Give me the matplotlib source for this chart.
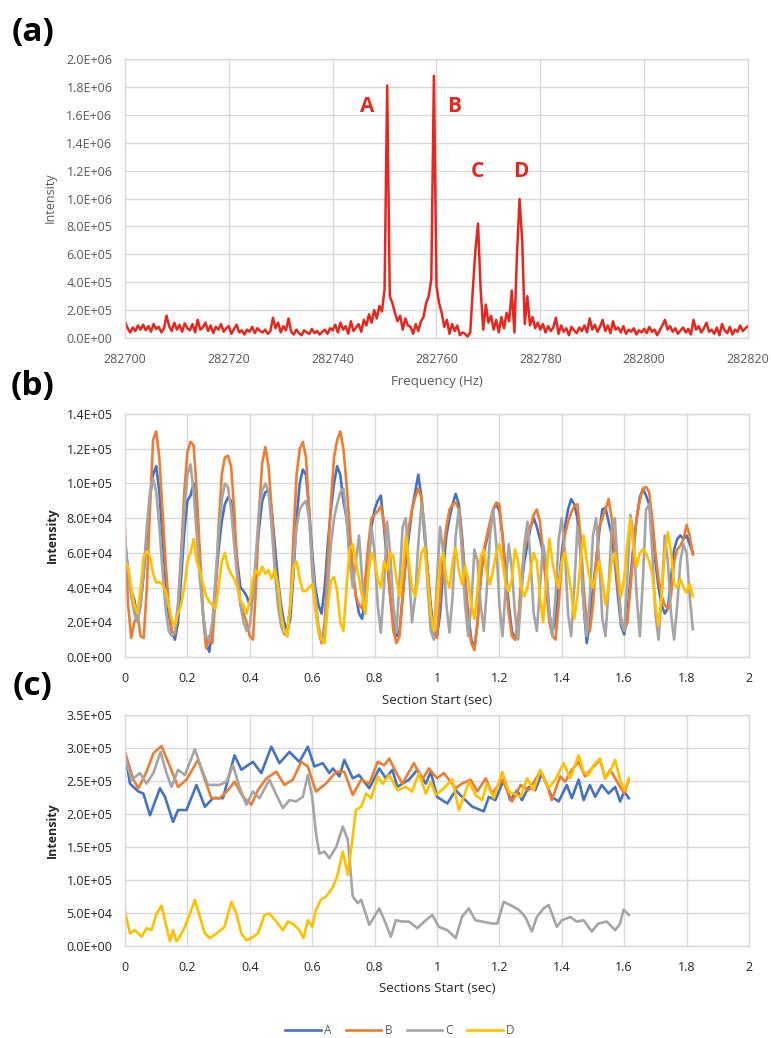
import numpy as np
import matplotlib
matplotlib.use("Agg")
import matplotlib.pyplot as plt
from matplotlib.ticker import FuncFormatter, MultipleLocator
from matplotlib.lines import Line2D

plt.rcParams['font.family'] = ['Open Sans', 'DejaVu Sans']

# ---------------- Panel (a): spectrum ----------------
freq_start = 282700.0
freq_step = 0.5
# intensity (x1000) every 0.5 Hz, 282700 .. 282820
spec_k = (
    [120, 70, 40, 75, 50, 90, 60, 95, 55, 85, 45, 100, 65, 80, 40, 70, 160, 85, 50, 110] +
    [60, 95, 45, 105, 70, 55, 100, 40, 130, 60, 75, 110, 50, 90, 35, 80, 60, 100, 45, 70] +
    [85, 30, 65, 95, 40, 55, 25, 60, 45, 80, 35, 70, 50, 40, 60, 30, 50, 145, 70, 110] +
    [40, 85, 55, 140, 45, 25, 60, 35, 20, 55, 40, 30, 65, 35, 50, 25, 45, 60, 30, 70] +
    [55, 95, 40, 110, 60, 85, 30, 120, 50, 75, 100, 45, 130, 90, 170, 110, 200, 140, 230, 190] +
    [350, 1810, 300, 250, 180, 120, 160, 60, 140, 90, 80, 30, 100, 50, 120, 150, 250, 300, 420, 1880] +
    [370, 250, 180, 80, 130, 30, 100, 50, 90, 20, 40, 30, 10, 40, 350, 630, 820, 350, 60, 240] +
    [110, 160, 60, 130, 40, 150, 70, 180, 120, 340, 40, 600, 996, 700, 100, 300, 90, 150, 70, 110] +
    [60, 100, 40, 85, 50, 75, 145, 30, 90, 45, 70, 20, 80, 55, 35, 75, 50, 90, 40, 140] +
    [60, 95, 45, 80, 130, 50, 90, 35, 120, 60, 75, 40, 85, 30, 60, 45, 70, 25, 55, 40] +
    [65, 35, 80, 45, 60, 20, 55, 90, 130, 60, 85, 45, 70, 30, 55, 75, 40, 65, 25, 130] +
    [60, 85, 40, 70, 110, 45, 60, 30, 75, 20, 100, 55, 35, 80, 25, 60, 45, 90, 50, 70] +
    [85]
)
peak_labels = ["A", "B", "C", "D"]
peak_label_x = [282746.7, 282763.3, 282767.9, 282776.2]
peak_label_y = [1.66e6, 1.66e6, 1.19e6, 1.19e6]

# ---------------- Panel (b): section intensities (x1000), every 0.01 s ----------------
b_step = 0.01
b_A = [65,50,38,33,22,30,48,70,92,105, 110,95,70,45,25,15,10,20,45,72,
       90,93,100,80,55,25,8,3,15,40, 62,78,88,92,90,75,55,40,38,35,
       30,35,55,75,90,95,96,85,65,45, 30,20,15,22,48,80,100,108,105,85,
       60,40,30,25,40,65,85,100,110,105, 90,80,65,50,35,25,22,35,55,75,
       85,90,93,75,55,35,20,12,15,35, 55,70,85,95,105,92,70,50,30,15,
       12,25,50,70,80,88,94,88,70,45, 25,10,5,20,45,60,68,75,85,88,
       84,70,50,30,15,10,18,40,55,65, 75,80,75,68,60,45,25,15,20,40,
       60,75,85,91,88,80,60,30,8,20, 40,55,72,85,86,78,70,55,35,18,
       13,25,45,65,80,92,97,93,88,75, 55,40,30,25,28,45,62,68,70,68,
       70,65,60]
b_B = [74,30,11,20,25,12,11,40,85,125, 130,115,85,55,30,15,13,30,60,95,
       118,124,122,95,60,25,5,12,8,35, 75,105,115,116,110,85,50,30,25,20,
       12,10,40,85,112,121,110,85,55,35, 20,14,12,30,70,105,120,124,115,85,
       50,28,15,8,20,55,90,115,125,130, 120,100,75,50,35,30,28,45,65,80,
       82,84,87,78,60,35,15,8,12,35, 60,75,85,92,97,92,75,50,25,12,
       11,35,60,75,85,88,89,85,68,45, 20,8,4,20,45,62,70,78,85,89,
       88,70,45,25,12,10,20,45,62,70, 75,82,85,78,60,40,20,12,10,30,
       55,70,78,83,87,88,70,40,20,15, 30,55,75,80,85,91,80,60,40,22,
       15,20,40,60,80,90,97,98,95,80, 60,45,35,30,28,35,55,62,64,68,
       76,70,59]
b_C = [68,50,35,25,20,30,50,75,95,103, 95,75,50,28,15,12,15,30,55,85,
       105,111,95,70,45,25,12,10,20,45, 70,90,100,98,85,65,45,30,20,15,
       18,35,60,85,96,100,95,75,50,30, 18,13,15,30,55,75,85,88,90,80,
       55,35,18,10,15,40,65,80,88,95, 97,80,55,40,55,70,45,25,50,75,
       60,30,14,40,78,60,30,14,45,75, 80,50,20,35,65,88,75,40,15,10,
       45,75,60,30,14,35,70,85,60,30, 12,30,62,55,30,15,40,70,85,65,
       30,12,40,65,50,25,10,35,65,78, 55,25,15,40,65,55,25,12,35,68,
       80,60,25,12,40,75,62,30,12,35, 70,80,55,22,12,40,75,80,50,20,
       15,45,82,70,35,12,45,85,88,60, 25,10,35,70,55,25,10,30,55,65,
       60,35,16]
b_D = [55,52,40,30,25,40,58,61,58,48, 43,43,42,38,30,22,18,25,30,40,
       55,60,68,55,50,42,35,32,30,28, 40,55,60,52,48,45,40,32,30,25,
       32,45,50,47,52,48,50,45,50,42, 25,15,12,30,52,55,45,38,38,40,
       42,30,15,10,8,30,44,46,38,20, 15,40,62,65,55,45,35,25,48,60,
       55,45,40,55,50,60,58,45,35,50, 70,55,40,35,45,60,63,45,25,15,
       35,55,60,45,40,55,63,50,42,52, 45,30,22,40,58,62,48,42,50,60,
       65,55,42,38,45,62,55,40,35,40, 50,60,55,35,20,45,68,55,45,40,
       55,60,50,38,22,35,55,70,55,45, 40,48,55,45,30,40,55,60,48,35,
       45,65,80,62,52,60,62,60,55,48, 30,18,35,60,72,60,42,40,45,40,
       37,42,35]

# ---------------- Panel (c): (time s, intensity x1000) ----------------
c_A = [(0,292),(.016,246),(.043,234),(.059,231),(.08,198),(.112,239),(.128,226),(.154,188),
       (.17,206),(.197,206),(.229,244),(.256,211),(.282,224),(.314,224),(.351,289),(.373,267),
       (.41,279),(.437,262),(.469,302),(.495,277),(.527,294),(.559,279),(.586,302),(.607,272),
       (.634,277),(.655,262),(.666,269),(.687,257),(.703,282),(.73,254),(.75,259),(.783,239),
       (.815,269),(.836,254),(.857,267),(.873,241),(.91,252),(.937,267),(.964,246),(.98,264),
       (1.0,226),(1.033,216),(1.06,236),(1.08,226),(1.113,211),(1.15,204),(1.166,226),(1.187,221),
       (1.214,252),(1.235,221),(1.257,236),(1.272,221),(1.294,241),(1.315,236),(1.336,262),
       (1.368,226),(1.39,219),(1.416,244),(1.432,224),(1.454,252),(1.47,221),(1.49,244),
       (1.507,226),(1.528,244),(1.55,231),(1.571,241),(1.587,219),(1.6,234),(1.615,224)]
c_B = [(0,294),(.027,252),(.043,239),(.069,264),(.091,292),(.117,303),(.144,272),(.17,241),
       (.197,252),(.234,282),(.256,252),(.277,224),(.304,224),(.33,236),(.351,249),(.378,226),
       (.405,214),(.426,236),(.453,254),(.485,264),(.511,244),(.538,252),(.565,279),(.586,272),
       (.612,234),(.644,246),(.655,252),(.677,264),(.703,264),(.73,229),(.757,252),(.783,246),
       (.81,279),(.831,274),(.847,284),(.868,264),(.889,246),(.926,277),(.953,252),(.974,269),
       (1.0,254),(1.022,262),(1.06,239),(1.08,246),(1.108,252),(1.129,234),(1.156,254),(1.177,231),
       (1.209,252),(1.241,219),(1.268,244),(1.294,236),(1.331,264),(1.353,244),(1.368,221),
       (1.395,257),(1.411,249),(1.432,267),(1.454,279),(1.475,257),(1.496,269),(1.523,282),
       (1.539,254),(1.555,267),(1.581,246),(1.6,231),(1.615,252)]
c_C = [(0,287),(.021,252),(.048,262),(.069,246),(.091,262),(.114,294),(.133,262),(.149,241),
       (.17,267),(.192,259),(.224,298),(.245,269),(.266,244),(.304,244),(.325,249),(.346,274),
       (.367,241),(.389,214),(.41,234),(.431,224),(.463,252),(.485,229),(.506,209),(.527,221),
       (.548,219),(.57,226),(.586,259),(.6,226),(.612,171),(.623,140),(.639,143),(.655,133),
       (.677,150),(.698,181),(.714,161),(.73,75),(.746,65),(.757,70),(.783,32),(.815,57),
       (.836,34),(.852,14),(.868,39),(.889,37),(.91,37),(.937,27),(.964,39),(.985,47),
       (1.006,29),(1.033,24),(1.06,12),(1.08,44),(1.102,57),(1.123,39),(1.145,37),(1.177,34),
       (1.193,34),(1.214,67),(1.235,62),(1.262,55),(1.283,44),(1.304,22),(1.32,44),(1.342,57),
       (1.358,62),(1.384,29),(1.4,39),(1.427,44),(1.448,37),(1.47,39),(1.496,22),(1.517,34),
       (1.544,37),(1.571,24),(1.587,34),(1.598,55),(1.615,47)]
c_D = [(0,52),(.016,19),(.032,24),(.053,14),(.069,27),(.085,24),(.101,49),(.117,61),(.133,29),
       (.144,7),(.154,24),(.165,7),(.176,14),(.192,29),(.208,49),(.224,70),(.24,44),(.256,19),
       (.272,12),(.293,19),(.319,29),(.341,67),(.357,49),(.373,19),(.389,9),(.405,12),(.426,19),
       (.447,47),(.463,49),(.485,37),(.506,24),(.522,37),(.538,34),(.559,24),(.572,12),(.586,39),
       (.6,29),(.612,55),(.628,70),(.644,75),(.665,88),(.68,105),(.698,143),(.714,108),(.73,166),
       (.74,206),(.757,211),(.773,231),(.789,224),(.81,257),(.826,246),(.847,259),(.873,236),
       (.9,241),(.92,234),(.942,262),(.964,231),(.98,249),(.996,229),(1.022,239),(1.049,252),
       (1.07,206),(1.086,226),(1.102,249),(1.123,229),(1.145,221),(1.16,246),(1.182,224),
       (1.209,264),(1.23,234),(1.246,231),(1.268,226),(1.289,254),(1.31,236),(1.331,267),
       (1.358,239),(1.379,252),(1.406,277),(1.427,254),(1.454,289),(1.47,264),(1.486,259),
       (1.502,274),(1.523,284),(1.539,254),(1.555,264),(1.571,282),(1.587,252),(1.6,236),(1.615,254)]

series_names = ["A", "B", "C", "D"]
series_colors = ["#4472C4", "#ED7D31", "#A5A5A5", "#FFC000"]
red = "#E8261E"
grid_c = "#D9D9D9"

W, H = 771, 1038
fig = plt.figure(figsize=(W / 100, H / 100), dpi=100)

def ax_at(left, top, right, bottom):
    return fig.add_axes([left / W, 1 - bottom / H, (right - left) / W, (bottom - top) / H])

def style(ax, tick_color):
    ax.grid(True, color=grid_c, lw=1.0)
    ax.set_axisbelow(True)
    for s in ax.spines.values():
        s.set_color(grid_c)
        s.set_linewidth(1.0)
    ax.tick_params(length=0, labelsize=9, colors=tick_color)
    ax.tick_params(axis="x", pad=11)
    ax.tick_params(axis="y", pad=9)

def sci(v, pos):
    return f"{v:.1E}"

def ftxt(x, y, s, **kw):
    fig.text(x / W, 1 - y / H, s, **kw)

# Panel a
axa = ax_at(125, 59, 748, 338)
freqs = freq_start + freq_step * np.arange(len(spec_k))
axa.plot(freqs, np.array(spec_k) * 1e3, color=red, lw=1.8)
axa.set_xlim(282700, 282820)
axa.set_ylim(0, 2.0e6)
axa.xaxis.set_major_locator(MultipleLocator(20))
axa.yaxis.set_major_locator(MultipleLocator(2e5))
axa.yaxis.set_major_formatter(FuncFormatter(sci))
axa.xaxis.set_major_formatter(FuncFormatter(lambda v, p: f"{v:.0f}"))
style(axa, "#595959")
for lab, x, y in zip(peak_labels, peak_label_x, peak_label_y):
    axa.text(x, y, lab, color=red, fontsize=15, fontweight="bold", ha="center", va="center")

# Panel b
axb = ax_at(125, 414, 749, 657)
tb = b_step * np.arange(len(b_A))
for vals, c in zip([b_A, b_B, b_C, b_D], series_colors):
    axb.plot(tb[:len(vals)], np.array(vals) * 1e3, color=c, lw=1.9)
axb.set_xlim(0, 2)
axb.set_ylim(0, 1.4e5)
axb.xaxis.set_major_locator(MultipleLocator(0.2))
axb.yaxis.set_major_locator(MultipleLocator(2e4))
axb.yaxis.set_major_formatter(FuncFormatter(sci))
axb.xaxis.set_major_formatter(FuncFormatter(lambda v, p: f"{v:g}"))
style(axb, "#262626")

# Panel c
axc = ax_at(125, 715, 749, 946)
for pairs, c in zip([c_A, c_B, c_C, c_D], series_colors):
    t, v = zip(*pairs)
    axc.plot(t, np.array(v) * 1e3, color=c, lw=1.9)
axc.set_xlim(0, 2)
axc.set_ylim(0, 3.5e5)
axc.xaxis.set_major_locator(MultipleLocator(0.2))
axc.yaxis.set_major_locator(MultipleLocator(5e4))
axc.yaxis.set_major_formatter(FuncFormatter(sci))
axc.xaxis.set_major_formatter(FuncFormatter(lambda v, p: f"{v:g}"))
style(axc, "#262626")

# Labels
ftxt(33, 33, "(a)", fontsize=24, fontweight="bold", ha="center", va="center", color="black")
ftxt(33, 386, "(b)", fontsize=24, fontweight="bold", ha="center", va="center", color="black")
ftxt(33, 686, "(c)", fontsize=24, fontweight="bold", ha="center", va="center", color="black")

ftxt(50, 198, "Intensity", fontsize=9, rotation=90, ha="center", va="center", color="#595959")
ftxt(52, 535, "Intensity", fontsize=9, fontweight="bold", rotation=90, ha="center", va="center", color="#262626")
ftxt(52, 830, "Intensity", fontsize=9, fontweight="bold", rotation=90, ha="center", va="center", color="#262626")

ftxt(437, 381, "Frequency (Hz)", fontsize=9.5, ha="center", va="center", color="#595959")
ftxt(437, 700, "Section Start (sec)", fontsize=9.5, ha="center", va="center", color="#262626")
ftxt(437, 989, "Sections Start (sec)", fontsize=9.5, ha="center", va="center", color="#262626")

handles = [Line2D([0], [0], color=c, lw=1.9) for c in series_colors]
fig.legend(handles, series_names, loc="center", bbox_to_anchor=(400 / W, 1 - 1031 / H),
           ncol=4, frameon=False, fontsize=8.5, labelcolor="#595959",
           handlelength=3.0, handletextpad=0.3, columnspacing=1.2)

fig.savefig("out.png", dpi=100)
